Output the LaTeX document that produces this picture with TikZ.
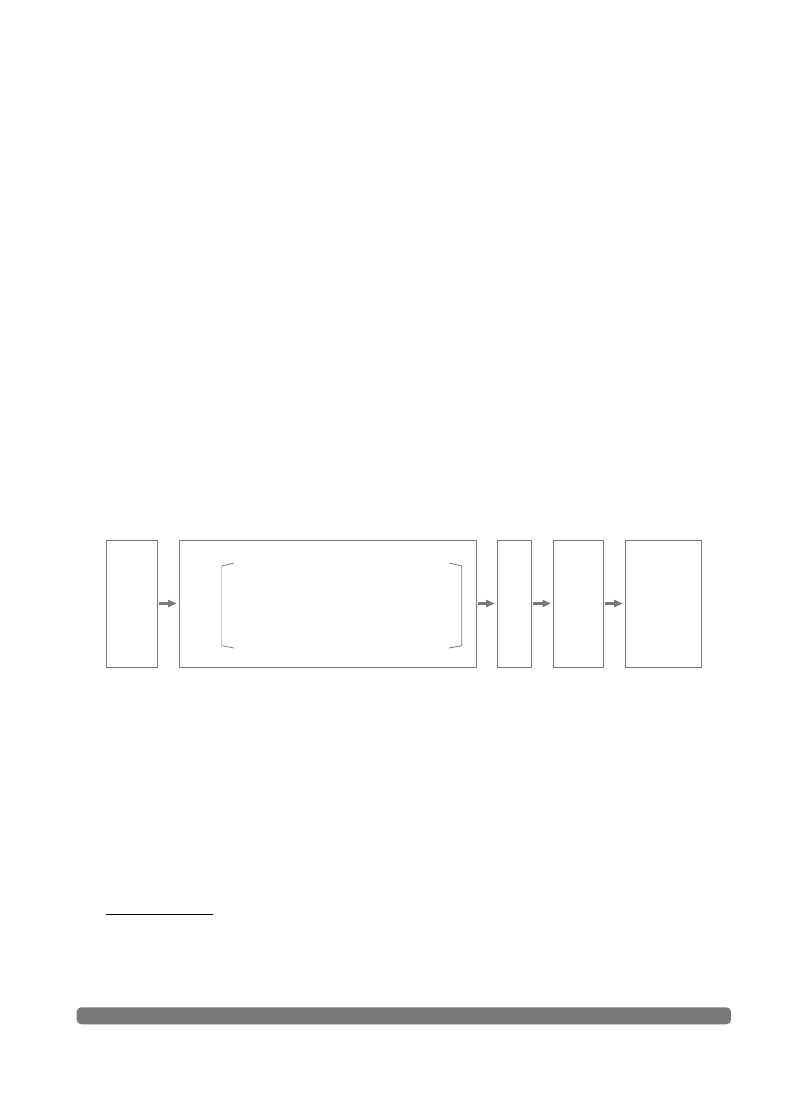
\documentclass[tikz,border=0pt]{standalone}
\usepackage{xcolor}
\usetikzlibrary{arrows.meta}
\definecolor{framegray}{HTML}{787878}
\definecolor{bargray}{HTML}{7B7879}
\definecolor{lightbracket}{HTML}{C8C8C8}

\begin{document}
\begin{tikzpicture}[x=1pt, y=-1pt,
  stage/.style={draw=framegray, line width=1pt, inner sep=0pt, minimum height=127pt},
  flow/.style={framegray, line width=2.2pt, -{Triangle[length=8.5pt, width=7pt]}, shorten <=1.2pt, shorten >=1.8pt}]
  \useasboundingbox (0,0) rectangle (808,1106);
  \node[stage, minimum width=51.5pt] (input) at (131.75,603.5) {};
  \node[stage, minimum width=297.7pt] (block) at (327.85,603.5) {};
  \node[stage, minimum width=34.3pt] (stepa) at (514.15,603.5) {};
  \node[stage, minimum width=50pt] (stepb) at (578.3,603.5) {};
  \node[stage, minimum width=76.7pt] (output) at (663.35,603.5) {};
  \draw[flow] (input.east) -- (block.west);
  \draw[flow] (block.east) -- (stepa.west);
  \draw[flow] (stepa.east) -- (stepb.west);
  \draw[flow] (stepb.east) -- (output.west);
  \draw[framegray, line width=0.7pt] (234,563) -- (221.5,566);
  \draw[lightbracket, line width=1pt] (221.5,566) -- (221.5,645.7);
  \draw[framegray, line width=0.7pt] (221.5,645.7) -- (234,648);
  \draw[framegray, line width=0.8pt] (449,563) -- (461.7,566) -- (461.7,645.7) -- (449,648);
  \draw[black, line width=0.9pt] (106,914.3) -- (212.7,914.3);
  \fill[bargray, rounded corners=4.5pt] (76.7,1007.3) rectangle (731,1024.3);
\end{tikzpicture}
\end{document}
